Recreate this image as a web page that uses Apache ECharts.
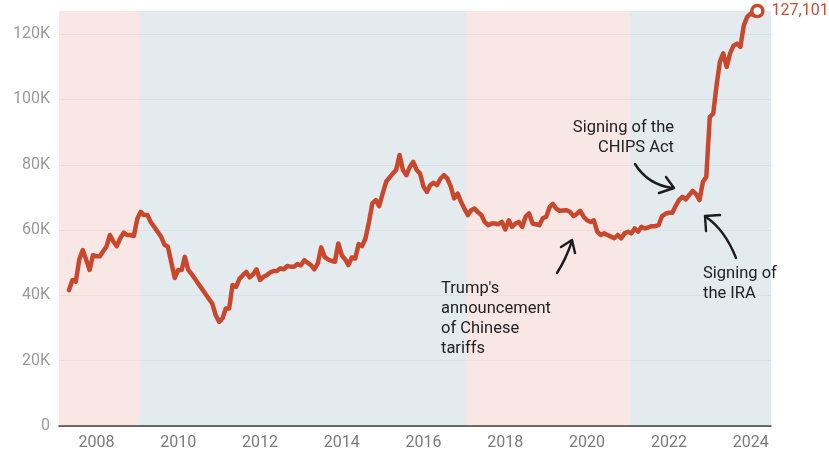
<!DOCTYPE html>
<html>
<head>
<meta charset="utf-8">
<script src="https://cdn.jsdelivr.net/npm/echarts@6/dist/echarts.min.js"></script>
<style>
  html, body { margin: 0; padding: 0; background: #ffffff; }
  #chart { width: 829px; height: 458px; }
</style>
</head>
<body>
<div id="chart"></div>
<script>
// Monthly series, first month = May 2007
const START_YEAR = 2007;
const START_MONTH = 5;

const values = [
  41600, 44700, 44200, 51000, 53900, 51000, 47800, 52300, 52000, 52000,
  53500, 55000, 58500, 56500, 55100, 57500, 59200, 58500, 58500, 58200,
  63500, 65600, 64600, 64600, 62500, 61000, 59500, 58000, 55500, 54900,
  50000, 45300, 47800, 47800, 51800, 47800, 46500, 45000, 43500, 42000,
  40500, 39000, 37500, 34000, 31900, 33000, 36000, 36000, 43200, 42600,
  45000, 46200, 47200, 45500, 46500, 48000, 44700, 45700, 46200, 47000,
  47500, 47500, 48300, 48000, 49000, 48800, 48800, 49600, 49200, 50800,
  50000, 49300, 48000, 49800, 54700, 51800, 51000, 50600, 50300, 55900,
  52300, 51000, 49300, 51600, 51300, 55700, 55100, 57500, 62500, 68200,
  69200, 67300, 71200, 74800, 76000, 77300, 78400, 83000, 78400, 76800,
  79400, 80900, 78400, 77300, 73300, 71700, 73800, 74500, 73800, 75800,
  76800, 75800, 73300, 69700, 71200, 68700, 66500, 64600, 66100, 66600,
  65500, 64600, 62500, 61500, 62000, 62000, 61800, 62500, 60200, 63000,
  61000, 62000, 62500, 61000, 64100, 65100, 62000, 61800, 61500, 63600,
  64100, 67100, 68000, 66600, 65900, 66000, 66100, 65600, 64300, 65000,
  65900, 64100, 63000, 62500, 63000, 59500, 58500, 59000, 58500, 58000,
  57500, 58500, 57500, 59000, 59500, 59000, 60500, 59500, 61000, 60500,
  60800, 61200, 61200, 61500, 64300, 65000, 65300, 65300, 67300, 69200,
  70200, 69400, 70700, 72000, 71000, 69200, 74800, 76300, 94700, 95700,
  103900, 111500, 114100, 110000, 114100, 116500, 117100, 116100, 122700, 125300,
  126300, 125800, 127101
];

const yTicks = [0, 20000, 40000, 60000, 80000, 100000, 120000];
const xTickYears = [2008, 2010, 2012, 2014, 2016, 2018, 2020, 2022, 2024];

// Presidential terms shading (R = pink, D = blue), dates as [year, month, day]
const termStarts = [[2007, 2, 1], [2009, 1, 20], [2017, 1, 20], [2021, 1, 20]];
const termEnds   = [[2009, 1, 20], [2017, 1, 20], [2021, 1, 20], [2024, 7, 1]];
const termParty  = ['R', 'D', 'R', 'D'];

const AXIS_MIN = [2007, 2, 1];
const AXIS_MAX = [2024, 7, 1];

const LINE_COLOR = '#c9482d';
const partyFill = { R: 'rgba(222,128,118,0.19)', D: 'rgba(112,150,168,0.19)' };

// Fractional year for a calendar date
function yearFrac(d) {
  const start = Date.UTC(d[0], 0, 1);
  const end = Date.UTC(d[0] + 1, 0, 1);
  return d[0] + (Date.UTC(d[0], d[1] - 1, d[2]) - start) / (end - start);
}
function monthDate(i) {
  const m0 = START_MONTH - 1 + i;
  return [START_YEAR + Math.floor(m0 / 12), (m0 % 12) + 1, 1];
}

const lastIdx = values.length - 1;
const seriesData = values.map((v, i) => {
  const point = [yearFrac(monthDate(i)), v];
  if (i !== lastIdx) return point;
  return {
    value: point,
    symbol: 'circle',
    symbolSize: 11,
    itemStyle: { color: '#ffffff', borderColor: LINE_COLOR, borderWidth: 3.5 },
    label: {
      show: true,
      position: 'right',
      distance: 7,
      formatter: p => p.value[1].toLocaleString('en-US'),
      color: '#c4503a',
      fontSize: 16,
      fontFamily: 'Roboto'
    }
  };
});

const shading = termStarts.map((s, i) => [
  { xAxis: yearFrac(s), itemStyle: { color: partyFill[termParty[i]] } },
  { xAxis: yearFrac(termEnds[i]) }
]);

const textStyleBase = { fill: '#222222', font: '16.5px Roboto', lineHeight: 20 };
const arrowStyle = { stroke: '#1c1c1c', lineWidth: 2.4, fill: null, lineCap: 'round', lineJoin: 'round' };

const chart = echarts.init(document.getElementById('chart'), null, { renderer: 'canvas' });
chart.setOption({
  animation: false,
  backgroundColor: '#ffffff',
  grid: { left: 59, right: 58, top: 11, bottom: 32 },
  xAxis: {
    type: 'value',
    min: yearFrac(AXIS_MIN),
    max: yearFrac(AXIS_MAX),
    axisLine: { show: true, onZero: false, lineStyle: { color: '#333333', width: 1.5 } },
    axisTick: { show: false },
    splitLine: { show: false },
    axisLabel: {
      customValues: xTickYears,
      formatter: v => String(v),
      color: '#7a7a7a',
      fontSize: 16,
      fontFamily: 'Roboto',
      margin: 9
    }
  },
  yAxis: {
    type: 'value',
    min: 0,
    max: values[lastIdx],
    interval: 20000,
    axisLine: { show: false },
    axisTick: { show: false },
    splitLine: { show: true, showMaxLine: false, lineStyle: { color: '#f3f3f3', width: 1 } },
    axisLabel: {
      showMaxLabel: false,
      formatter: v => (yTicks.indexOf(v) < 0 ? '' : (v === 0 ? '0' : (v / 1000) + 'K')),
      color: '#9a9a9a',
      fontSize: 16,
      fontFamily: 'Roboto',
      margin: 9
    }
  },
  series: [{
    type: 'line',
    data: seriesData,
    symbol: 'none',
    showSymbol: true,
    clip: false,
    lineStyle: { color: LINE_COLOR, width: 4.5, join: 'round', cap: 'round' },
    itemStyle: { color: LINE_COLOR },
    z: 3,
    markArea: { silent: true, data: shading, z: 1 }
  }],
  graphic: [
    // CHIPS Act note
    { type: 'text', z: 10, x: 674, y: 118, style: Object.assign({ text: 'Signing of the\nCHIPS Act', align: 'right', verticalAlign: 'top' }, textStyleBase) },
    { type: 'bezierCurve', z: 10, shape: { x1: 635, y1: 164, cpx1: 648, cpy1: 185, x2: 673, y2: 188 }, style: arrowStyle },
    { type: 'polyline', z: 10, shape: { points: [[666, 177], [674, 188], [659, 193]] }, style: arrowStyle },
    // Tariffs note
    { type: 'text', z: 10, x: 441, y: 279, style: Object.assign({ text: "Trump's\nannouncement\nof Chinese\ntariffs", align: 'left', verticalAlign: 'top' }, textStyleBase) },
    { type: 'bezierCurve', z: 10, shape: { x1: 557, y1: 273, cpx1: 566, cpy1: 259, x2: 572, y2: 241 }, style: arrowStyle },
    { type: 'polyline', z: 10, shape: { points: [[561, 247], [572, 240], [575, 253]] }, style: arrowStyle },
    // IRA note
    { type: 'text', z: 10, x: 703, y: 264, style: Object.assign({ text: 'Signing of\nthe IRA', align: 'left', verticalAlign: 'top' }, textStyleBase) },
    { type: 'bezierCurve', z: 10, shape: { x1: 736, y1: 258, cpx1: 725, cpy1: 230, x2: 706, y2: 217 }, style: arrowStyle },
    { type: 'polyline', z: 10, shape: { points: [[720, 215], [705, 216], [706, 231]] }, style: arrowStyle }
  ]
});
</script>
</body>
</html>
